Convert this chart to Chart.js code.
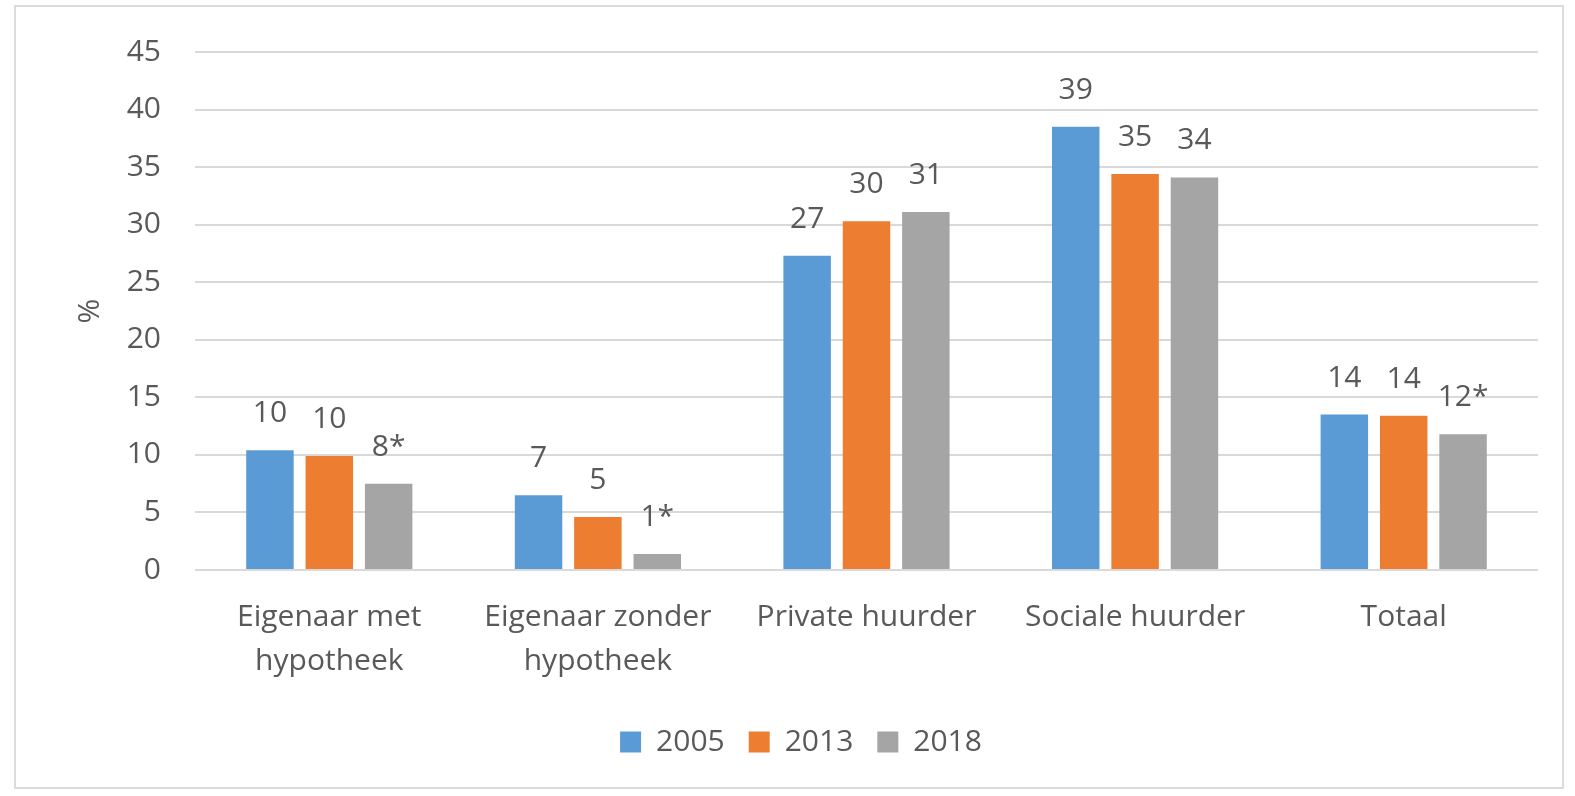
<!DOCTYPE html>
<html>
<head>
<meta charset="utf-8">
<script src="https://cdn.jsdelivr.net/npm/chart.js@4/dist/chart.umd.min.js"></script>
<style>
  html, body { margin: 0; padding: 0; background: #fff; }
  #wrap { position: absolute; left: 0; top: 0; width: 1575px; height: 796px; }
  #frame { position: absolute; left: 14px; top: 5px; width: 1550px; height: 784px; border: 2px solid #dcdcdc; box-sizing: border-box; pointer-events: none; }
</style>
</head>
<body>
<div id="wrap"><canvas id="c" width="1575" height="796"></canvas></div>
<div id="frame"></div>
<script>
const categories = [["Eigenaar met", "hypotheek"], ["Eigenaar zonder", "hypotheek"], ["Private huurder"], ["Sociale huurder"], ["Totaal"]];
const seriesNames = ["2005", "2013", "2018"];
const values2005 = [10.4, 6.5, 27.3, 38.5, 13.5];
const values2013 = [9.9, 4.6, 30.3, 34.4, 13.4];
const values2018 = [7.5, 1.4, 31.1, 34.1, 11.8];
const labels2005 = ["10", "7", "27", "39", "14"];
const labels2013 = ["10", "5", "30", "35", "14"];
const labels2018 = ["8*", "1*", "31", "34", "12*"];
const yTicks = [0, 5, 10, 15, 20, 25, 30, 35, 40, 45];

const FONT = "'Open Sans', 'DejaVu Sans', sans-serif";
const TEXT = "#595959";

const valueLabels = {
  id: 'valueLabels',
  afterDatasetsDraw(chart) {
    const ctx = chart.ctx;
    ctx.save();
    ctx.font = "30px " + FONT;
    ctx.fillStyle = TEXT;
    ctx.textAlign = 'center';
    ctx.textBaseline = 'alphabetic';
    chart.data.datasets.forEach((ds, i) => {
      const meta = chart.getDatasetMeta(i);
      meta.data.forEach((el, j) => {
        ctx.fillText(ds.valueLabels[j], el.x, el.y - 28);
      });
    });
    ctx.restore();
  }
};

new Chart(document.getElementById('c'), {
  type: 'bar',
  data: {
    labels: categories,
    datasets: [
      { label: seriesNames[0], data: values2005, valueLabels: labels2005, backgroundColor: '#5B9BD5' },
      { label: seriesNames[1], data: values2013, valueLabels: labels2013, backgroundColor: '#ED7D31' },
      { label: seriesNames[2], data: values2018, valueLabels: labels2018, backgroundColor: '#A5A5A5' }
    ]
  },
  options: {
    responsive: false,
    animation: false,
    layout: { padding: { top: 50, right: 37, bottom: 29, left: 64 } },
    datasets: { bar: { categoryPercentage: 0.663, barPercentage: 0.8 } },
    scales: {
      x: {
        grid: { display: false },
        border: { display: false },
        ticks: { color: TEXT, font: { family: FONT, size: 30, lineHeight: 1.45 }, padding: 18, maxRotation: 0, autoSkip: false },
        afterFit(scale) { scale.height = 133; }
      },
      y: {
        min: 0, max: 45,
        afterBuildTicks(scale) { scale.ticks = yTicks.map(v => ({ value: v })); },
        grid: { color: '#d9d9d9', lineWidth: 2, drawTicks: false },
        border: { display: false },
        ticks: { color: TEXT, font: { family: FONT, size: 30 }, padding: 34 },
        title: { display: true, text: '%', color: TEXT, font: { family: FONT, size: 30 }, padding: { top: 8, bottom: 0 } },
        afterFit(scale) { scale.width = 131; }
      }
    },
    plugins: {
      legend: {
        position: 'bottom',
        labels: { color: TEXT, font: { family: FONT, size: 30 }, boxWidth: 21, boxHeight: 21, padding: 24 }
      },
      tooltip: { enabled: false }
    }
  },
  plugins: [valueLabels]
});
</script>
</body>
</html>
